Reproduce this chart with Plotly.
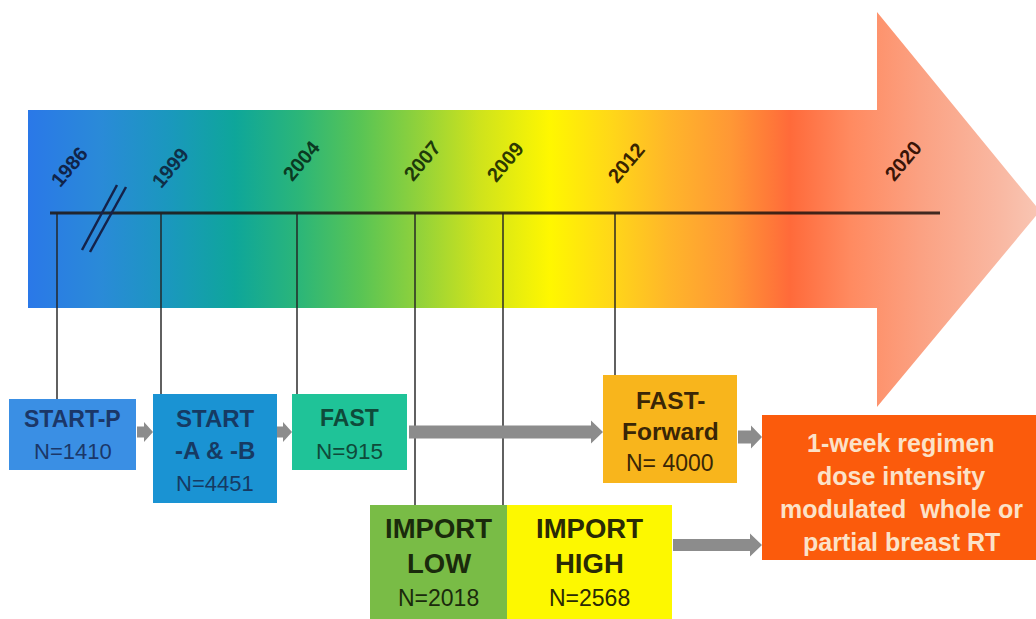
import plotly.graph_objects as go

# ---------------- data ----------------
years = [1986, 1999, 2004, 2007, 2009, 2012, 2020]
trial_names = ["START-P", "START<br>-A & -B", "FAST", "IMPORT<br>LOW", "IMPORT<br>HIGH", "FAST-<br>Forward"]
trial_years = [1986, 1999, 2004, 2007, 2009, 2012]
trial_n = ["1410", "4451", "915", "2018", "2568", " 4000"]
outcome_lines = ["1-week regimen", "dose intensity", "modulated  whole or", "partial breast RT"]

# ---------------- layout geometry (pixels) ----------------
W, H = 1036, 619
LINE_Y = 213
year_px = {1986: 57, 1999: 161, 2004: 297, 2007: 415, 2009: 503, 2012: 615}
year_label_xy = [(69, 167), (170, 168), (301, 161), (422, 161), (505, 162), (626, 163), (903, 161)]
year_label_color = ["#10244a", "#0f2f48", "#0b3a22", "#1e3a0a", "#2e3a00", "#3a2500", "#3a1508"]

# box geometry: x0, y0, x1, y1, fill, text colour, first-line y, line spacing, name size, N size
box_style = [
    (9, 399, 136, 470, "#3a8fe4", "#1b3768", 419, 32, 23, 22),
    (153, 394, 277, 503, "#1a93d3", "#163a63", 418, 32.5, 24, 22),
    (292, 394, 407, 470, "#1fc398", "#0f4a3a", 418, 33, 23, 22.5),
    (370, 505, 507, 640, "#79bc46", "#1a2a0c", 528, 35, 27.5, 23),
    (507, 505, 672, 640, "#fdf800", "#2a2a05", 528, 35, 27.5, 23),
    (603, 375, 737, 483, "#f8b51c", "#3a2606", 400, 31.5, 24.5, 23),
]
outcome_box = (762, 415, 1045, 560, "#fb5b0c", "#fbe2c8", 443, 33, 25)

gray_arrows = [  # x0, x1, y, shaft, head length, head half-height
    (137, 153, 432, 11, 9, 10),
    (277, 292, 432, 11, 9, 10),
    (409, 603, 432, 13, 12, 11.5),
    (738, 762, 437, 13, 11, 11.5),
    (673, 762, 545, 12, 12, 11.5),
]

grad_stops = [
    (28, "#2a78e8"), (100, "#2a8ad8"), (170, "#1a98bd"), (235, "#0ea69a"),
    (300, "#2cb678"), (360, "#58c455"), (420, "#92d23a"), (480, "#cfe31c"),
    (550, "#fff700"), (610, "#ffd818"), (670, "#ffb52a"), (730, "#ff9835"),
    (790, "#ff6a3a"), (850, "#ff8a60"), (920, "#fba182"), (1000, "#f9b8a2"),
    (1040, "#f9c6b4"),
]

FONT = "Liberation Sans, Arial, sans-serif"

fig = go.Figure()

# big gradient arrow
ax = [28, 877, 877, 1040, 877, 877, 28, 28]
ay = [110, 110, 12, 211, 407, 308, 308, 110]
x_lo, x_hi = grad_stops[0][0], grad_stops[-1][0]
cs = [[(x - x_lo) / (x_hi - x_lo), c] for x, c in grad_stops]
fig.add_trace(go.Scatter(
    x=ax, y=ay, mode="lines", line=dict(width=0), fill="toself",
    fillgradient=dict(type="horizontal", colorscale=cs, start=x_lo, stop=x_hi),
    hoverinfo="skip", showlegend=False,
))

shapes = []
# timeline line
shapes.append(dict(type="line", x0=50, x1=940, y0=LINE_Y, y1=LINE_Y,
                   line=dict(color="rgba(30,20,15,0.85)", width=3), layer="above"))
# axis break marks
for (x0, y0, x1, y1) in [(82, 250, 117, 185), (90, 252, 126, 187)]:
    shapes.append(dict(type="line", x0=x0, y0=y0, x1=x1, y1=y1,
                       line=dict(color="#14224a", width=2.5), layer="above"))

# connectors from timeline to boxes
for yr, st in zip(trial_years, box_style):
    xp = year_px[yr]
    shapes.append(dict(type="line", x0=xp, x1=xp, y0=LINE_Y, y1=st[1],
                       line=dict(color="rgba(35,35,35,0.9)", width=1.6), layer="above"))

# gray arrows
for (x0, x1, y, t, hl, hh) in gray_arrows:
    p = (f"M{x0},{y - t / 2} L{x1 - hl},{y - t / 2} L{x1 - hl},{y - hh} L{x1},{y} "
         f"L{x1 - hl},{y + hh} L{x1 - hl},{y + t / 2} L{x0},{y + t / 2} Z")
    shapes.append(dict(type="path", path=p, fillcolor="#8c8c8c", line=dict(width=0), layer="above"))

# boxes
for st in box_style + [outcome_box]:
    x0, y0, x1, y1, fc = st[:5]
    shapes.append(dict(type="rect", x0=x0, x1=x1, y0=y0, y1=y1, fillcolor=fc,
                       line=dict(width=0), layer="above"))

ann = []
# year labels
for yr, (lx, ly), col in zip(years, year_label_xy, year_label_color):
    ann.append(dict(x=lx, y=ly, xref="x", yref="y", text=f"<b>{yr}</b>", showarrow=False,
                    textangle=-50, font=dict(family=FONT, size=20, color=col),
                    xanchor="center", yanchor="middle"))

# trial box texts
for name, n, st in zip(trial_names, trial_n, box_style):
    x0, y0, x1, y1, fc, tc, ly0, sp, nsz, nnsz = st
    cx = (x0 + x1) / 2
    lines = [(f"<b>{s}</b>", nsz) for s in name.split("<br>")] + [(f"N={n}", nnsz)]
    for i, (txt, sz) in enumerate(lines):
        ann.append(dict(x=cx, y=ly0 + i * sp, xref="x", yref="y", text=txt, showarrow=False,
                        font=dict(family=FONT, size=sz, color=tc),
                        xanchor="center", yanchor="middle"))

# outcome box text
x0, y0, x1, y1, fc, tc, ly0, sp, sz = outcome_box
for i, s in enumerate(outcome_lines):
    ann.append(dict(x=(x0 + min(x1, W)) / 2 + 2, y=ly0 + i * sp, xref="x", yref="y",
                    text=f"<b>{s}</b>", showarrow=False,
                    font=dict(family=FONT, size=sz, color=tc),
                    xanchor="center", yanchor="middle"))

fig.update_layout(
    width=W, height=H, autosize=False,
    margin=dict(l=0, r=0, t=0, b=0),
    paper_bgcolor="white", plot_bgcolor="white",
    xaxis=dict(range=[0, W], visible=False, fixedrange=True),
    yaxis=dict(range=[H, 0], visible=False, fixedrange=True),
    shapes=shapes, annotations=ann, showlegend=False,
)

fig.write_html("out.html", config={"displayModeBar": False},
               post_script="document.body.style.margin='0px';document.body.style.overflow='hidden';")
